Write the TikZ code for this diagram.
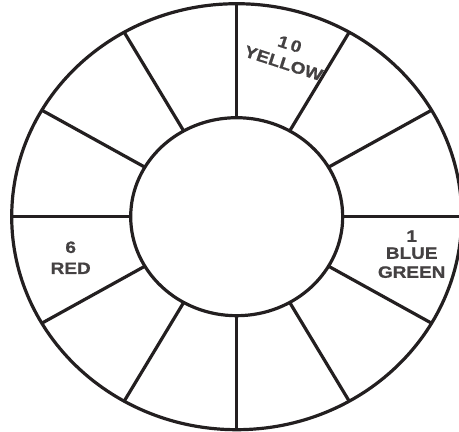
\documentclass[tikz,border=0pt]{standalone}
\usepackage{fontspec}
\newfontfamily\wheelfont[FakeStretch=1.15,FakeBold=0.8]{Liberation Sans Bold}
\usepackage{xcolor}
\usetikzlibrary{calc}

\definecolor{ink}{RGB}{35,31,32}

\begin{document}
\begin{tikzpicture}[
    x=1pt, y=1pt,
    ring/.style={draw=ink, line width=3.2pt},
    spoke/.style={draw=ink, line width=3.2pt},
    hue/.style={font=\wheelfont\fontsize{16.5}{20}\selectfont,
                text=ink!85, align=center, inner sep=0pt},
]

% --------- Frame (right edge cuts the outer ring) ----------
\useasboundingbox (-236.7,-215.3) rectangle (222.3,216.7);
\clip (-236.7,-215.3) rectangle (222.3,216.7);

% --------- Rings ----------
\draw[ring] (0,0) ellipse [x radius=225, y radius=213];
\draw[ring] (0,0) ellipse [x radius=106, y radius=99];

% --------- Spokes, every 30 degrees ----------
\foreach \a in {0,30,...,330}
  \draw[spoke] ({106*cos(\a)},{99*sin(\a)}) -- ({225*cos(\a)},{213*sin(\a)});

% --------- Colour labels ----------
\node[hue]              (bluegreen) at (175,-37.5) {1\\[-3pt]BLUE\\[-1pt]GREEN};
\node[hue]              (red)       at (-166,-41)  {6\\[1pt]RED};
\node[hue, rotate=-18]  (yellow)    at (50,163)    {1\,0\\[0pt]YELLOW};

\end{tikzpicture}
\end{document}
